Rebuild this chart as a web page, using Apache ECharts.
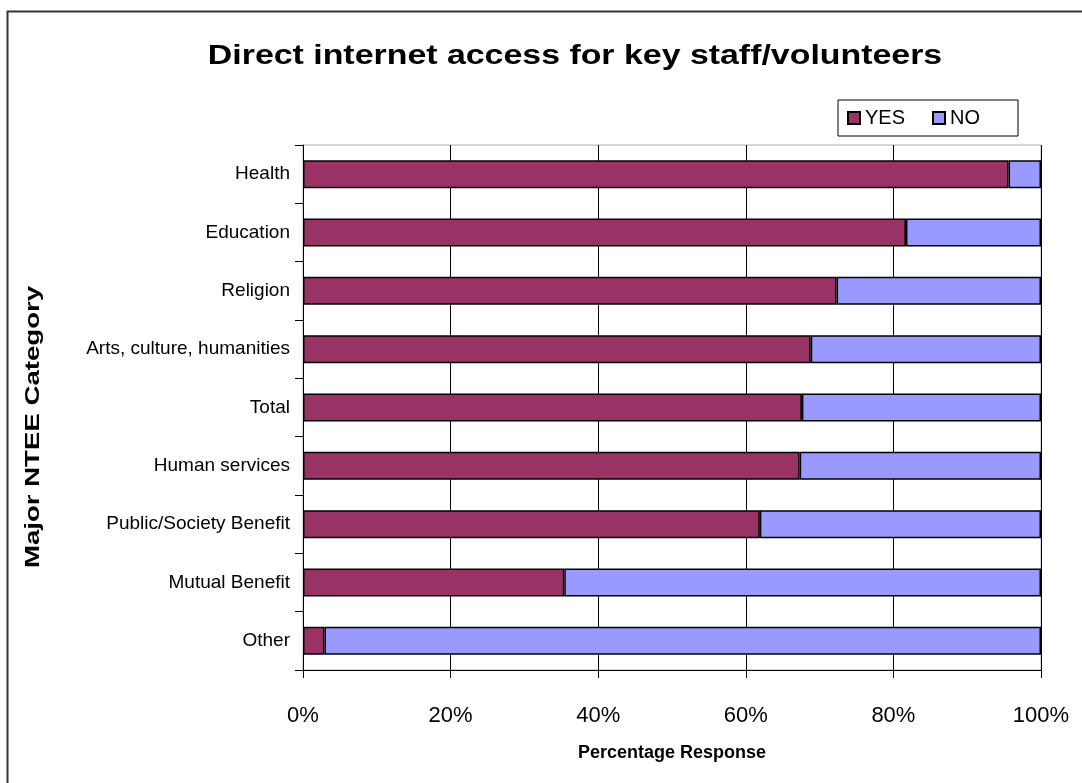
<!DOCTYPE html>
<html>
<head>
<meta charset="utf-8">
<script src="https://cdn.jsdelivr.net/npm/echarts@6/dist/echarts.min.js"></script>
<style>
  html, body { margin: 0; padding: 0; background: #fff; }
  #chart { width: 1082px; height: 783px; }
</style>
</head>
<body>
<div id="chart"></div>
<script>
// Categories listed top to bottom
const categories = [
  'Health', 'Education', 'Religion', 'Arts, culture, humanities', 'Total',
  'Human services', 'Public/Society Benefit', 'Mutual Benefit', 'Other'
];
// Share answering YES / NO (percent)
const yesValues = [95.6, 81.7, 72.3, 68.8, 67.6, 67.3, 61.9, 35.4, 2.9];
const noValues = [4.4, 18.3, 27.7, 31.2, 32.4, 32.7, 38.1, 64.6, 97.1];
const xTicks = [0, 20, 40, 60, 80, 100];

const FONT = '"Liberation Sans", Arial, sans-serif';
const chart = echarts.init(document.getElementById('chart'), null, { renderer: 'canvas' });

chart.setOption({
  backgroundColor: '#fff',
  animation: false,
  textStyle: { fontFamily: FONT, color: '#000' },
  legend: {
    left: 838,
    top: 100,
    itemWidth: 12,
    itemHeight: 12,
    itemGap: 27,
    padding: [8, 38, 8, 9],
    borderColor: '#000',
    borderWidth: 1,
    icon: 'rect',
    textStyle: { fontFamily: FONT, fontSize: 20, color: '#000', padding: [0, 0, 0, 0] },
    data: ['YES', 'NO']
  },
  graphic: [
    {
      // outer frame
      type: 'rect',
      shape: { x: 7.5, y: 11.5, width: 1200, height: 900 },
      style: { fill: 'none', stroke: '#333', lineWidth: 2 },
      silent: true,
      z: 100
    },
    {
      // chart title
      type: 'group',
      x: 575, y: 56,
      scaleX: 1.21, scaleY: 1,
      children: [{
        type: 'text',
        style: {
          text: 'Direct internet access for key staff/volunteers',
          font: 'bold 28px ' + FONT,
          fill: '#000', align: 'center', verticalAlign: 'middle'
        }
      }]
    },
    {
      // vertical axis title
      type: 'group',
      x: 33, y: 427,
      rotation: Math.PI / 2,
      scaleX: 1.38, scaleY: 1,
      children: [{
        type: 'text',
        style: {
          text: 'Major NTEE Category',
          font: 'bold 20px ' + FONT,
          fill: '#000', align: 'center', verticalAlign: 'middle'
        }
      }]
    }
  ],
  grid: { left: 303, right: 41, top: 145, bottom: 113, containLabel: false,
          show: true, borderColor: '#b0b0b0', borderWidth: 1 },
  xAxis: {
    type: 'value',
    min: xTicks[0],
    max: xTicks[xTicks.length - 1],
    interval: 20,
    name: 'Percentage Response',
    nameLocation: 'middle',
    nameGap: 74,
    nameTextStyle: { fontFamily: FONT, fontSize: 18, fontWeight: 'bold', color: '#000' },
    axisLine: { show: true, lineStyle: { color: '#000', width: 1 } },
    axisTick: { show: true, length: 8, lineStyle: { color: '#000' } },
    axisLabel: { formatter: '{value}%', fontFamily: FONT, fontSize: 22, color: '#000', margin: 35 },
    splitLine: { show: true, lineStyle: { color: '#000', width: 1 } }
  },
  yAxis: {
    type: 'category',
    inverse: true,
    data: categories,
    axisLine: { show: true, lineStyle: { color: '#000', width: 1 } },
    axisTick: { show: true, length: 8, alignWithLabel: false, lineStyle: { color: '#000' } },
    axisLabel: { fontFamily: FONT, fontSize: 19, color: '#000', margin: 13 },
    splitLine: { show: false }
  },
  series: [
    {
      name: 'YES',
      type: 'bar',
      stack: 'total',
      data: yesValues,
      barCategoryGap: '52%',
      itemStyle: { color: '#993366', borderColor: '#000', borderWidth: 1.5 }
    },
    {
      name: 'NO',
      type: 'bar',
      stack: 'total',
      data: noValues,
      barCategoryGap: '52%',
      itemStyle: { color: '#9999FF', borderColor: '#000', borderWidth: 1.5 }
    }
  ]
});
</script>
</body>
</html>
